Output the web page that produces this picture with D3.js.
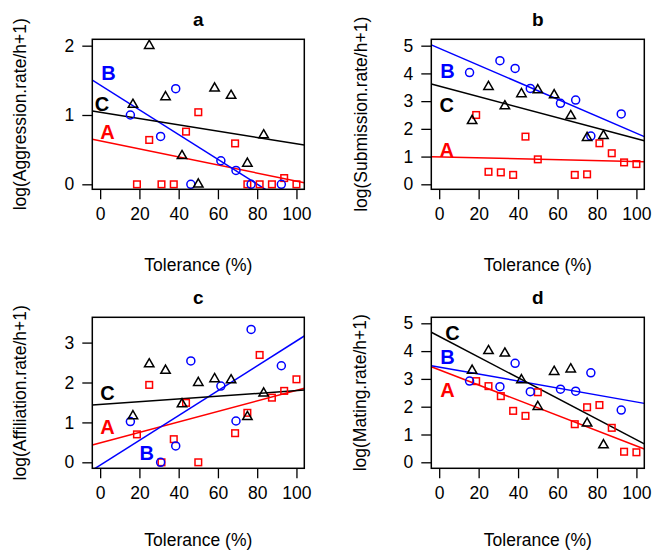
<!DOCTYPE html>
<html>
<head>
<meta charset="utf-8">
<script src="https://cdn.jsdelivr.net/npm/d3@7"></script>
<style>
  body { margin: 0; background: #fff; }
  text { font-family: "Liberation Sans", Arial, sans-serif; }
</style>
</head>
<body>
<div id="chart"></div>
<script>
// tolerance (%) of each group's individuals
const tolA = [18.75, 25, 31.25, 37.5, 43.75, 50, 68.75, 75, 81.25, 87.5, 93.75, 100];
const tolB = [15.4, 30.8, 38.5, 46.2, 61.5, 69.2, 76.9, 92.3];
const tolC = [16.7, 25, 33.3, 41.7, 50, 58.3, 66.7, 75, 83.3];

// a: aggression
const aggA = [0, 0.64, 0, 0, 0.76, 1.04, 0.59, 0, 0, 0, 0.09, 0];
const aggB = [1.0, 0.69, 1.38, 0, 0.34, 0.2, 0, 0];
const aggC = [1.15, 2.0, 1.26, 0.41, 0, 1.385, 1.28, 0.3, 0.71];

// b: submission
const subA = [2.5, 0.45, 0.43, 0.34, 1.72, 0.9, 0.34, 0.36, 1.48, 1.12, 0.79, 0.73];
const subB = [4.03, 4.46, 4.18, 3.46, 2.92, 3.04, 1.74, 2.54];
const subC = [2.29, 3.52, 2.82, 3.26, 3.4, 3.22, 2.47, 1.68, 1.75];

// c: affiliation
const affA = [0.7, 1.94, 0, 0.58, 1.49, 0, 0.73, 1.24, 2.69, 1.62, 1.79, 2.08];
const affB = [1.02, 0, 0.41, 2.54, 1.91, 1.035, 3.33, 2.42];
const affC = [1.16, 2.46, 2.3, 1.46, 1.995, 2.09, 2.06, 1.14, 1.73];

// d: mating
const matA = [2.92, 2.74, 2.38, 1.85, 1.67, 2.52, 1.37, 1.98, 2.06, 1.24, 0.38, 0.36];
const matB = [2.92, 2.72, 3.56, 2.54, 2.63, 2.56, 3.22, 1.88];
const matC = [3.3, 4.01, 3.92, 2.96, 2.0, 3.26, 3.35, 1.4, 0.62];

// fitted lines [intercept, slope] for panels a, b, c, d
const fitA = [[0.626, -0.0058], [0.989, -0.00168], [0.487, 0.01316], [3.33, -0.0274]];
const fitB = [[1.433, -0.01789], [4.907, -0.03065], [-0.072, 0.03113], [3.425, -0.01255]];
const fitC = [[1.04, -0.004556], [3.544, -0.01898], [1.45, 0.00346], [4.531, -0.03722]];

const xTicks = [0, 20, 40, 60, 80, 100];
const aggTicks = [0, 1, 2];
const subTicks = [0, 1, 2, 3, 4, 5];
const affTicks = [0, 1, 2, 3];
const matTicks = [0, 1, 2, 3, 4, 5];

const titles = ["a", "b", "c", "d"];
const yLabels = ["log(Aggression.rate/h+1)", "log(Submission.rate/h+1)",
                 "log(Affiliation.rate/h+1)", "log(Mating.rate/h+1)"];

// ===== layout =====
const width = 652, height = 551;
const panels = [
  { x0: 92.3, x1: 304.3, y0: 39.3, y1: 189.3, ydom: [-0.072, 2.092], ticks: aggTicks,
    A: aggA, B: aggB, C: aggC, labels: { B: [4.2, 1.61], C: [0.9, 1.16], A: [3.7, 0.76] }, ylx: 20, xly: 265 },
  { x0: 431.3, x1: 644.3, y0: 39.3, y1: 189.3, ydom: [-0.18, 5.23], ticks: subTicks,
    A: subA, B: subB, C: subC, labels: { B: [4.2, 4.1], C: [3.8, 2.86], A: [3.8, 1.24] }, ylx: 361, xly: 265 },
  { x0: 92.3, x1: 304.3, y0: 317.3, y1: 468.3, ydom: [-0.15, 3.634], ticks: affTicks,
    A: affA, B: affB, C: affC, labels: { C: [3.7, 1.74], A: [3.7, 0.89], B: [23.7, 0.23] }, ylx: 20, xly: 540 },
  { x0: 431.3, x1: 644.3, y0: 317.3, y1: 468.3, ydom: [-0.216, 5.216], ticks: matTicks,
    A: matA, B: matB, C: matC, labels: { C: [6.7, 4.64], B: [4.2, 3.78], A: [4.2, 2.6] }, ylx: 360, xly: 540 }
];
const groupColor = { A: "#ff0000", B: "#0000ff", C: "#000000" };
const fits = { A: fitA, B: fitB, C: fitC };

const svg = d3.select("#chart").append("svg")
  .attr("width", width).attr("height", height);

const tri = s => {
  const r = s * 1.555, xc = s * 1.347, yc = s * 0.778;
  return `M0,${-r}L${xc},${yc}L${-xc},${yc}Z`;
};

panels.forEach((p, i) => {
  const x = d3.scaleLinear().domain([-4, 104]).range([p.x0, p.x1]);
  const y = d3.scaleLinear().domain(p.ydom).range([p.y1, p.y0]);
  const g = svg.append("g");

  g.append("clipPath").attr("id", "clip" + i)
    .append("rect").attr("x", p.x0).attr("y", p.y0)
    .attr("width", p.x1 - p.x0).attr("height", p.y1 - p.y0);

  // axes
  const xa = g.append("g").attr("transform", `translate(0,${p.y1})`)
    .call(d3.axisBottom(x).tickValues(xTicks).tickSize(10).tickPadding(8).tickFormat(d3.format("d")));
  const ya = g.append("g").attr("transform", `translate(${p.x0},0)`)
    .call(d3.axisLeft(y).tickValues(p.ticks).tickSize(10).tickPadding(8).tickFormat(d3.format("d")));
  [xa, ya].forEach(a => {
    a.select(".domain").remove();
    a.selectAll("line").attr("stroke", "#000").attr("stroke-width", 1.3);
    a.selectAll("text").attr("font-size", 17.5).attr("fill", "#000")
      .attr("font-family", "Liberation Sans, Arial, sans-serif");
  });

  // fitted lines
  const lg = g.append("g").attr("clip-path", `url(#clip${i})`);
  ["A", "B", "C"].forEach(k => {
    const [b0, b1] = fits[k][i];
    lg.append("line")
      .attr("x1", x(-4)).attr("y1", y(b0 + b1 * -4))
      .attr("x2", x(104)).attr("y2", y(b0 + b1 * 104))
      .attr("stroke", groupColor[k]).attr("stroke-width", 1.5);
  });

  // points
  const pg = g.append("g").attr("fill", "none").attr("stroke-width", 1.5);
  pg.selectAll("rect.ptA").data(p.A.map((v, j) => [tolA[j], v])).join("rect")
    .attr("class", "ptA")
    .attr("x", d => x(d[0]) - 3.3).attr("y", d => y(d[1]) - 3.3)
    .attr("width", 6.6).attr("height", 6.6)
    .attr("stroke", groupColor.A);
  pg.selectAll("circle.ptB").data(p.B.map((v, j) => [tolB[j], v])).join("circle")
    .attr("class", "ptB")
    .attr("cx", d => x(d[0])).attr("cy", d => y(d[1])).attr("r", 4)
    .attr("stroke", groupColor.B);
  pg.selectAll("path.ptC").data(p.C.map((v, j) => [tolC[j], v])).join("path")
    .attr("class", "ptC")
    .attr("d", tri(3.5))
    .attr("transform", d => `translate(${x(d[0])},${y(d[1])})`)
    .attr("stroke", groupColor.C);

  // group letters
  Object.entries(p.labels).forEach(([k, pos]) => {
    g.append("text").attr("x", x(pos[0])).attr("y", y(pos[1]))
      .attr("text-anchor", "middle").attr("dominant-baseline", "central")
      .attr("font-size", 20).attr("font-weight", "bold")
      .attr("fill", groupColor[k]).text(k);
  });

  // box
  g.append("rect").attr("x", p.x0).attr("y", p.y0)
    .attr("width", p.x1 - p.x0).attr("height", p.y1 - p.y0)
    .attr("fill", "none").attr("stroke", "#000").attr("stroke-width", 1.5);

  // titles
  g.append("text").attr("x", (p.x0 + p.x1) / 2).attr("y", p.y0 - 13.5)
    .attr("text-anchor", "middle").attr("font-size", 19).attr("font-weight", "bold")
    .text(titles[i]);
  g.append("text").attr("x", (p.x0 + p.x1) / 2).attr("y", p.xly)
    .attr("text-anchor", "middle").attr("dominant-baseline", "central")
    .attr("font-size", 17.5).text("Tolerance (%)");
  g.append("text")
    .attr("transform", `translate(${p.ylx},${(p.y0 + p.y1) / 2}) rotate(-90)`)
    .attr("text-anchor", "middle").attr("dominant-baseline", "central")
    .attr("font-size", 17.5).text(yLabels[i]);
});
</script>
</body>
</html>
